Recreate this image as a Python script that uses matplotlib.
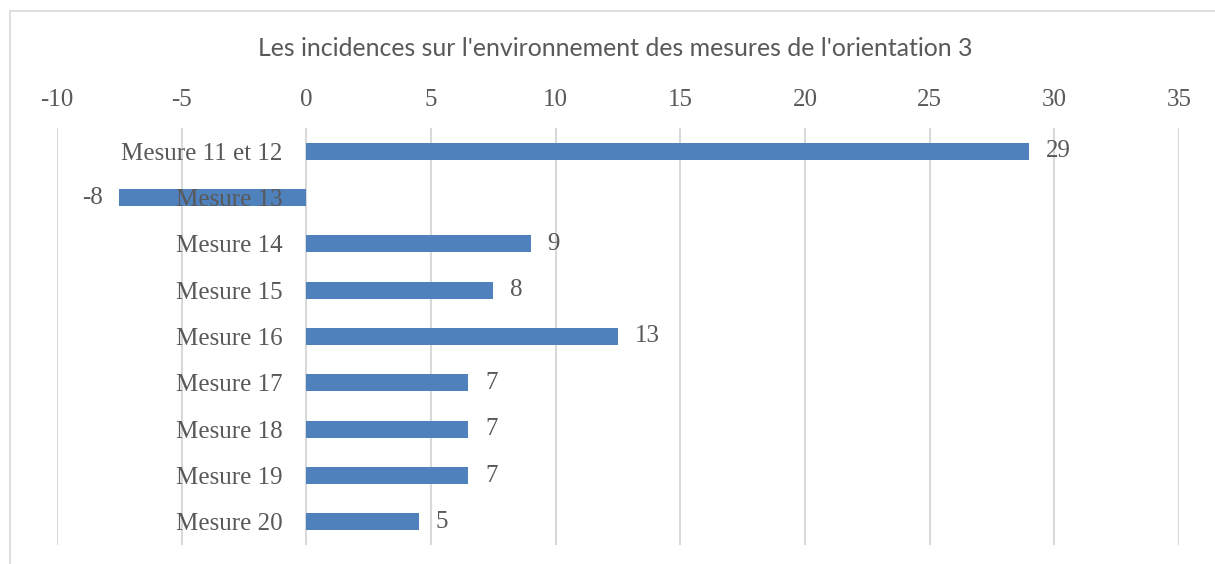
#!/usr/bin/env python3
from matplotlib import pyplot as plt
from matplotlib.lines import Line2D

# Impact scores per measure (orientation 3)
MEASURES = ["Mesure 11 et 12", "Mesure 13", "Mesure 14", "Mesure 15", "Mesure 16",
            "Mesure 17", "Mesure 18", "Mesure 19", "Mesure 20"]
SCORES = [29, -7.5, 9, 7.5, 12.5, 6.5, 6.5, 6.5, 4.5]
X_TICKS = [-10, -5, 0, 5, 10, 15, 20, 25, 30, 35]

TITLE = "Les incidences sur l'environnement des mesures de l'orientation 3"
BAR_COLOR = "#4f81bd"
TEXT_COLOR = "#595959"
GRID_COLOR = "#d9d9d9"
SERIF = ["Liberation Serif", "DejaVu Serif"]
FONT_SIZE = 18


def half_up(value):
    # Excel "0" number format rounds halves away from zero
    sign = -1 if value < 0 else 1
    return str(sign * int(abs(value) + 0.5))


def main():
    fig = plt.figure(figsize=(12.15, 5.64), dpi=100)
    ax = fig.add_axes([57 / 1215, 1 - 545 / 564, (1179 - 57) / 1215, (545 - 128) / 564])

    positions = list(range(len(MEASURES)))
    bars = ax.barh(positions, SCORES, height=0.36, color=BAR_COLOR, zorder=2)

    ax.set_xlim(X_TICKS[0], X_TICKS[-1])
    ax.set_ylim(len(MEASURES) - 0.5, -0.5)

    # vertical gridlines drawn by hand so the axis (and its labels) can sit above the bars
    for t in X_TICKS:
        ax.axvline(t, color=GRID_COLOR, linewidth=1.5, zorder=0)

    ax.set_xticks(X_TICKS)
    ax.set_xticklabels([str(t) for t in X_TICKS])
    ax.xaxis.tick_top()
    ax.tick_params(axis="x", length=0, pad=12, labelsize=FONT_SIZE, labelcolor=TEXT_COLOR)
    for label in ax.get_xticklabels():
        label.set_fontfamily(SERIF)

    # category labels sit on the zero line, like the source spreadsheet chart
    ax.spines["left"].set_position(("data", 0))
    ax.set_yticks(positions)
    ax.set_yticklabels(MEASURES, fontsize=FONT_SIZE, color=TEXT_COLOR, family=SERIF)
    ax.tick_params(axis="y", length=0, pad=17)
    ax.xaxis.set_zorder(3)
    ax.yaxis.set_zorder(3)

    for side in ["left", "right", "top", "bottom"]:
        ax.spines[side].set_visible(False)

    ax.bar_label(bars, labels=[half_up(v) for v in SCORES], padding=12,
                 fontsize=FONT_SIZE, color=TEXT_COLOR, family=SERIF)

    fig.text(615 / 1215, 1 - 48 / 564, TITLE, ha="center", va="center",
             fontsize=17.9, color=TEXT_COLOR, family=["Lato", "DejaVu Sans"])

    # light chart-area frame
    frame_x = 10 / 1215
    frame_y = 1 - 11 / 564
    fig.add_artist(Line2D([frame_x, 1], [frame_y, frame_y], color=GRID_COLOR, linewidth=1.2))
    fig.add_artist(Line2D([frame_x, frame_x], [0, frame_y], color=GRID_COLOR, linewidth=1.2))

    fig.savefig("out.png", dpi=100, facecolor="white")


if __name__ == "__main__":
    main()
